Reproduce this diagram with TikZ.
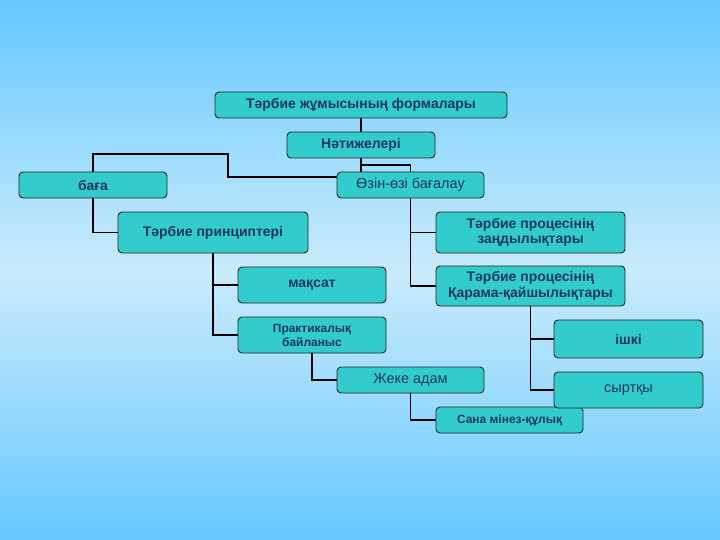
\documentclass[tikz,border=0pt]{standalone}
\usepackage{fontspec}
\setmainfont{Liberation Sans}
\usepackage{xcolor}
\usetikzlibrary{positioning,calc}
\definecolor{skytop}{HTML}{66C8FF}
\definecolor{skymid}{HTML}{CAEBFB}
\definecolor{boxteal}{HTML}{33CCCC}
\definecolor{boxtext}{HTML}{17375F}
\tikzset{
  tbbox/.style={draw=black!85, line width=0.9bp, rounded corners=4bp, fill=boxteal, align=center, inner sep=1bp, text=boxtext, font=\fontsize{14}{15.5}\selectfont\bfseries},
  tbthin/.style={tbbox, font=\fontsize{14.5}{16}\selectfont},
  tbsmall/.style={tbbox, font=\fontsize{12}{14}\selectfont\bfseries},
  tbline/.style={draw=black, line width=1.8bp}
}
\begin{document}
\begin{tikzpicture}[x=1bp,y=-1bp]
% background
\shade[top color=skytop, bottom color=skymid] (0,0) rectangle (720,270);
\shade[top color=skymid, bottom color=skytop] (0,270) rectangle (720,540);
\useasboundingbox (0,0) rectangle (720,540);

% junction points of the elbow connectors
\coordinate (j_res) at (361,165);
\coordinate (j_baga) at (228,154);

\node[tbbox, minimum width=292bp, minimum height=26bp] (forms) at (361,105) {Тәрбие жұмысының формалары};
\node[tbbox, minimum width=148bp, minimum height=26bp] (results) at (361,145) {Нәтижелері};
\node[tbbox, minimum width=148bp, minimum height=26bp] (baga) at (93,185) {бағa};
\node[tbthin, minimum width=147bp, minimum height=26bp] (selfeval) at (410.5,185) {Өзін-өзі бағалау};
\node[tbbox, minimum width=190bp, minimum height=41bp] (princ) at (213,232.5) {Тәрбие принциптері};
\node[tbbox, minimum width=189bp, minimum height=41bp] (laws) at (530.5,232.5) {Тәрбие процесінің\\заңдылықтары};
\node[tbbox, minimum width=189bp, minimum height=40bp] (contra) at (530.5,286) {Тәрбие процесінің\\Қарама-қайшылықтары};
\node[tbbox, minimum width=148bp, minimum height=36bp] (goal) at (312,285) {мақсат};
\node[tbsmall, minimum width=148bp, minimum height=36bp] (practice) at (312,335) {Практикалық\\байланыс};
\node[tbthin, minimum width=147bp, minimum height=26bp] (person) at (410.5,380) {Жеке адам};
\node[tbsmall, minimum width=147bp, minimum height=26bp] (mind) at (509.5,420) {Сана мінез-құлық};
\node[tbbox, minimum width=149bp, minimum height=38bp] (inner) at (628.5,339) {ішкі};
\node[tbthin, minimum width=149bp, minimum height=36bp] (outer) at (628.5,390) {сыртқы};

% connectors
\draw[tbline] (forms.south) -- (results.north);
\draw[tbline] (results.south) -- (results.south |- selfeval.north);
\draw[tbline] (j_res) -| (selfeval.north);
\draw[tbline] (baga.north) |- (j_baga) |- ([yshift=8bp]selfeval.west);
\draw[tbline] (baga.south) |- (princ.west);
\draw[tbline] (princ.south) |- (goal.west);
\draw[tbline] (princ.south) |- (practice.west);
\draw[tbline] (practice.south) |- (person.west);
\draw[tbline] (person.south) |- (mind.west);
\draw[tbline] (selfeval.south) |- (laws.west);
\draw[tbline] (selfeval.south) |- (contra.west);
\draw[tbline] (contra.south) |- (inner.west);
\draw[tbline] (contra.south) |- (outer.west);
\end{tikzpicture}
\end{document}
